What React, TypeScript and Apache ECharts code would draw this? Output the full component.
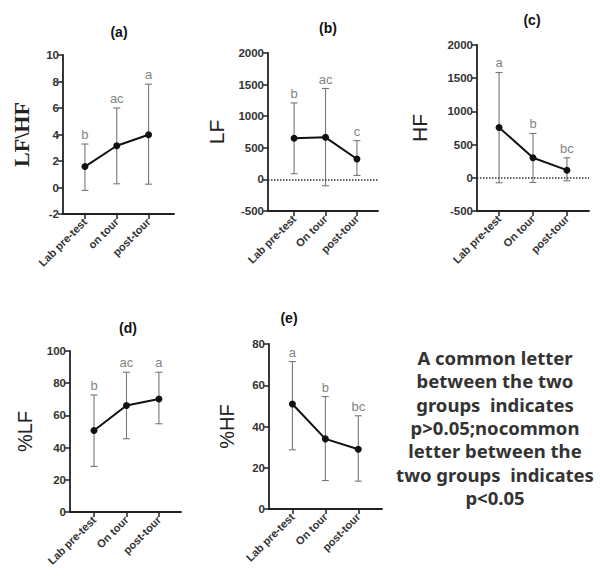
import React, { useEffect, useRef } from "react";
import * as echarts from "echarts";

// ---- data ----
const catsA = ["Lab pre-test", "on tour", "post-tour"];
const cats = ["Lab pre-test", "On tour", "post-tour"];

const lfhfMean = [1.58, 3.15, 3.98];
const lfhfLow = [-0.22, 0.28, 0.25];
const lfhfHigh = [3.28, 6.0, 7.8];
const lfhfLetters = ["b", "ac", "a"];

const lfMean = [650, 666, 322];
const lfLow = [90, -100, 63];
const lfHigh = [1210, 1438, 613];
const lfLetters = ["b", "ac", "c"];

const hfMean = [758, 301, 115];
const hfLow = [-75, -70, -45];
const hfHigh = [1586, 668, 301];
const hfLetters = ["a", "b", "bc"];

const pLfMean = [50.6, 66.1, 70.2];
const pLfLow = [28.3, 45.5, 54.8];
const pLfHigh = [72.7, 86.8, 86.8];
const pLfLetters = ["b", "ac", "a"];

const pHfMean = [50.9, 34.0, 29.0];
const pHfLow = [28.7, 13.8, 13.5];
const pHfHigh = [71.5, 54.5, 45.2];
const pHfLetters = ["a", "b", "bc"];

const noteLines = [
  "A common letter",
  "between the two",
  "groups  indicates",
  "p>0.05;nocommon",
  "letter between the",
  "two groups  indicates",
  "p<0.05",
];

const SANS = "Liberation Sans, Arial, sans-serif";

type Panel = {
  title: string;
  titleX: number;
  titleY: number;
  name: string;
  nameFont: string;
  nameWeight: string;
  nameSize: number;
  nameGap: number;
  cats: string[];
  mean: number[];
  low: number[];
  high: number[];
  letters: string[];
  yMin: number;
  yMax: number;
  yInt: number;
  xMin: number;
  xMax: number;
  grid: { left: number; top: number; width: number; height: number };
  zeroLine: boolean;
};

const panels: Panel[] = [
  {
    title: "(a)", titleX: 119, titleY: 32,
    name: "LF\\HF", nameFont: "Liberation Serif, Times New Roman, serif", nameWeight: "bold", nameSize: 22, nameGap: 31,
    cats: catsA, mean: lfhfMean, low: lfhfLow, high: lfhfHigh, letters: lfhfLetters,
    yMin: -2, yMax: 10, yInt: 2, xMin: -0.69, xMax: 2.8,
    grid: { left: 63, top: 55, width: 111, height: 159 }, zeroLine: false,
  },
  {
    title: "(b)", titleX: 328, titleY: 28,
    name: "LF", nameFont: SANS, nameWeight: "normal", nameSize: 21, nameGap: 41,
    cats, mean: lfMean, low: lfLow, high: lfHigh, letters: lfLetters,
    yMin: -500, yMax: 2000, yInt: 500, xMin: -0.83, xMax: 2.67,
    grid: { left: 268, top: 53, width: 110, height: 158 }, zeroLine: true,
  },
  {
    title: "(c)", titleX: 532, titleY: 20,
    name: "HF", nameFont: SANS, nameWeight: "normal", nameSize: 21, nameGap: 47,
    cats, mean: hfMean, low: hfLow, high: hfHigh, letters: hfLetters,
    yMin: -500, yMax: 2000, yInt: 500, xMin: -0.65, xMax: 2.65,
    grid: { left: 477, top: 45, width: 112, height: 166 }, zeroLine: true,
  },
  {
    title: "(d)", titleX: 128, titleY: 328,
    name: "%LF", nameFont: SANS, nameWeight: "normal", nameSize: 20, nameGap: 35,
    cats, mean: pLfMean, low: pLfLow, high: pLfHigh, letters: pLfLetters,
    yMin: 0, yMax: 100, yInt: 20, xMin: -0.74, xMax: 2.68,
    grid: { left: 70, top: 351, width: 111, height: 161 }, zeroLine: false,
  },
  {
    title: "(e)", titleX: 289, titleY: 318,
    name: "%HF", nameFont: SANS, nameWeight: "normal", nameSize: 20, nameGap: 32,
    cats, mean: pHfMean, low: pHfLow, high: pHfHigh, letters: pHfLetters,
    yMin: 0, yMax: 80, yInt: 20, xMin: -0.71, xMax: 2.72,
    grid: { left: 269, top: 344, width: 113, height: 165 }, zeroLine: false,
  },
];

function buildOption() {
  const grid: any[] = [];
  const xAxis: any[] = [];
  const yAxis: any[] = [];
  const series: any[] = [];
  const graphic: any[] = [];

  panels.forEach((p, i) => {
    grid.push({ ...p.grid, containLabel: false });
    const axisLine = { show: true, onZero: false, lineStyle: { color: "#222", width: 1.8 } };
    xAxis.push({
      type: "value",
      gridIndex: i,
      min: p.xMin,
      max: p.xMax,
      axisLine,
      splitLine: { show: false },
      axisTick: { show: true, customValues: [0, 1, 2], length: 5, lineStyle: { color: "#222", width: 1.5 } },
      axisLabel: {
        show: true,
        customValues: [0, 1, 2],
        formatter: (v: number) => p.cats[Math.round(v)] ?? "",
        rotate: 45,
        margin: 6,
        fontSize: 11,
        fontWeight: "bold",
        fontFamily: SANS,
        color: "#333",
      },
    });
    yAxis.push({
      type: "value",
      gridIndex: i,
      min: p.yMin,
      max: p.yMax,
      interval: p.yInt,
      axisLine,
      splitLine: { show: false },
      axisTick: { show: true, length: 5, lineStyle: { color: "#222", width: 1.5 } },
      axisLabel: {
        fontSize: 11.5,
        fontWeight: "bold",
        fontFamily: SANS,
        color: "#333",
        margin: 4,
        formatter: (v: number) => String(v),
      },
      name: p.name,
      nameLocation: "middle",
      nameRotate: 90,
      nameGap: p.nameGap,
      nameTextStyle: {
        fontSize: p.nameSize,
        fontFamily: p.nameFont,
        fontWeight: p.nameWeight,
        color: "#222",
      },
    });

    series.push({
      type: "custom",
      xAxisIndex: i,
      yAxisIndex: i,
      z: 1,
      encode: { x: 0, y: [1, 2] },
      data: p.low.map((lo, k) => [k, lo, p.high[k]]),
      renderItem: (_params: any, api: any) => {
        const x = api.value(0);
        const lo = api.coord([x, api.value(1)]);
        const hi = api.coord([x, api.value(2)]);
        const cw = 3.5;
        const stroke = { stroke: "#777", lineWidth: 1.1, fill: "none" };
        return {
          type: "group",
          children: [
            { type: "line", shape: { x1: lo[0], y1: lo[1], x2: hi[0], y2: hi[1] }, style: stroke },
            { type: "line", shape: { x1: hi[0] - cw, y1: hi[1], x2: hi[0] + cw, y2: hi[1] }, style: stroke },
            { type: "line", shape: { x1: lo[0] - cw, y1: lo[1], x2: lo[0] + cw, y2: lo[1] }, style: stroke },
          ],
        };
      },
    });

    const letters = p.letters;
    series.push({
      type: "scatter",
      xAxisIndex: i,
      yAxisIndex: i,
      z: 2,
      symbolSize: 0,
      silent: true,
      data: p.high.map((h, k) => [k, h]),
      itemStyle: { color: "transparent" },
      label: {
        show: true,
        position: "top",
        distance: 3,
        formatter: (prm: any) => letters[prm.dataIndex],
        color: "#606060",
        fontSize: 13,
        fontFamily: SANS,
      },
    });

    const line: any = {
      type: "line",
      xAxisIndex: i,
      yAxisIndex: i,
      z: 3,
      data: p.mean.map((m, k) => [k, m]),
      symbol: "circle",
      symbolSize: 7,
      lineStyle: { color: "#111", width: 2 },
      itemStyle: { color: "#111" },
    };
    if (p.zeroLine) {
      line.markLine = {
        silent: true,
        symbol: "none",
        label: { show: false },
        lineStyle: { type: "dotted", color: "#333", width: 1.5 },
        data: [{ yAxis: 0 }],
      };
    }
    series.push(line);

    graphic.push({
      type: "text",
      x: p.titleX,
      y: p.titleY,
      style: {
        text: p.title,
        fill: "#111",
        fontSize: 14,
        fontWeight: "bold",
        fontFamily: SANS,
        align: "center",
        verticalAlign: "middle",
      },
    });
  });

  graphic.push({
    type: "text",
    x: 495,
    y: 346,
    style: {
      text: noteLines.join("\n"),
      fill: "#333",
      fontSize: 18.5,
      lineHeight: 23.3,
      fontWeight: "bold",
      fontFamily: "Noto Sans, Open Sans, sans-serif",
      align: "center",
      verticalAlign: "top",
    },
  });

  return { animation: false, backgroundColor: "#fff", grid, xAxis, yAxis, series, graphic };
}

export default function App() {
  const ref = useRef<HTMLDivElement>(null);
  useEffect(() => {
    if (!ref.current) return;
    const chart = echarts.init(ref.current, undefined, { renderer: "svg" });
    chart.setOption(buildOption() as any);
    return () => chart.dispose();
  }, []);
  return (
    <div
      ref={ref}
      style={{ position: "absolute", left: 0, top: 0, width: 600, height: 579 }}
    />
  );
}
